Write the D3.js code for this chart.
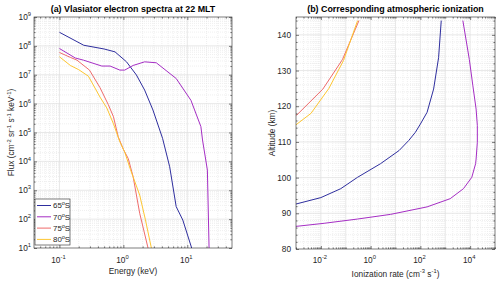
<!DOCTYPE html>
<html><head><meta charset="utf-8">
<script src="https://cdn.jsdelivr.net/npm/d3@7"></script>
<style>
html,body{margin:0;padding:0;background:#fff;}
svg{display:block;font-family:"Liberation Sans",Arial,Helvetica,sans-serif;}
</style></head>
<body>
<svg id="c" width="500" height="283"></svg>
<script>
// ---------- DATA ----------
const latitudes = ["65", "70", "75", "80"];
const seriesColors = ["#2e2e9e", "#a52ec4", "#ef6b6b", "#fdc632"];

// Panel (a): electron spectra, energy (keV) and flux
const energy65 = [0.1, 0.24, 0.5, 0.74, 1.12, 1.6, 2.15, 2.9, 4.1, 5.3, 6.7, 8.5, 11.7, 13];
const flux65   = [2.95e8, 1.05e8, 7.8e7, 6.2e7, 2.8e7, 9.8e6, 2.95e6, 6.0e5, 6.3e4, 6.5e3, 270, 93, 10, 4];
const energy70 = [0.1, 0.177, 0.238, 0.46, 0.62, 0.88, 1.05, 1.42, 2.15, 3.27, 6.7, 11.4, 16.3, 17.3, 20.6, 21.9, 22.2];
const flux70   = [8.1e7, 3.8e7, 3.2e7, 2.0e7, 2.0e7, 1.45e7, 1.45e7, 2.1e7, 2.8e7, 2.6e7, 7.4e6, 1.3e6, 1.6e5, 5.5e4, 5.0e3, 10, 4];
const energy75 = [0.1, 0.148, 0.188, 0.295, 0.43, 0.58, 0.70, 0.83, 1.0, 1.19, 1.42, 1.8, 2.43, 2.6];
const flux75   = [5.9e7, 4.0e7, 3.2e7, 1.45e7, 3.6e6, 9.3e5, 3.5e5, 7.1e4, 2.6e4, 1.26e4, 2.95e3, 160, 10, 4];
const energy80 = [0.1, 0.148, 0.2, 0.284, 0.43, 0.55, 0.70, 0.88, 1.05, 1.29, 1.8, 2.2, 2.74, 2.9];
const flux80   = [4.2e7, 2.1e7, 1.5e7, 8.9e6, 1.7e6, 7.1e5, 2.0e5, 4.8e4, 2.1e4, 5.2e3, 680, 100, 10, 5];

// Panel (b): ionization rate (cm^-3 s^-1) vs altitude (km)
const alt65  = [92.0, 92.6, 94.4, 96.9, 100.1, 103.9, 107.6, 110.4, 112.7, 115, 118.3, 124.8, 133.6, 144];
const rate65 = [4e-4, 1e-3, 1e-2, 6.3e-2, 0.3, 2.5, 14, 34, 63, 100, 186, 340, 540, 690];
const alt70  = [86.2, 86.4, 87.2, 88.4, 89.7, 91.8, 94.1, 96.9, 100.1, 103.9, 105.2, 109.9, 114.6, 119.2, 125.7, 133.1, 144];
const rate70 = [5e-4, 1.2e-3, 1.35e-2, 0.3, 6.3, 186, 1580, 5400, 1.17e4, 1.66e4, 1.74e4, 1.95e4, 1.95e4, 1.74e4, 1.29e4, 9300, 5100];
const alt75  = [117.2, 117.6, 124.8, 133.1, 144];
const rate75 = [6e-4, 1.1e-3, 1.2e-2, 7.4e-2, 0.34];
const alt80  = [114.5, 114.8, 118, 125, 132.8, 144];
const rate80 = [6e-4, 1e-3, 4e-3, 2.1e-2, 8.1e-2, 0.3];

// tick values
const fluxTicks = [1, 2, 3, 4, 5, 6, 7, 8, 9];        // exponents 10^n
const energyTicks = [-1, 0, 1];
const altTicks = [80, 90, 100, 110, 120, 130, 140];
const rateTicks = [-2, 0, 2, 4];

const titleA = "(a) Vlasiator electron spectra at 22 MLT";
const titleB = "(b) Corresponding atmospheric ionization";

// ---------- DRAW ----------
const svg = d3.select("#c");
const axisCol = "#262626";
const gridCol = "#dedede";
const minorCol = "#e4e4e4";
const tickFont = 8.3;

const pa = {x0: 34, x1: 232, y0: 17, y1: 248};
const pb = {x0: 296, x1: 495, y0: 17, y1: 249};

const xA = d3.scaleLog().domain([0.04, 50]).range([pa.x0, pa.x1]);
const yA = d3.scaleLog().domain([10, 1e9]).range([pa.y1, pa.y0]);
const xB = d3.scaleLog().domain([1e-3, 1e5]).range([pb.x0, pb.x1]);
const yB = d3.scaleLinear().domain([80, 145]).range([pb.y1, pb.y0]);

function logMinor(lo, hi) {
  const out = [];
  for (let e = Math.floor(Math.log10(lo)); e <= Math.ceil(Math.log10(hi)); e++) {
    for (let m = 2; m <= 9; m++) {
      const v = m * Math.pow(10, e);
      if (v > lo && v < hi) out.push(v);
    }
  }
  return out;
}
function logMajor(lo, hi) {
  const out = [];
  for (let e = Math.ceil(Math.log10(lo)); e <= Math.floor(Math.log10(hi)); e++) out.push(Math.pow(10, e));
  return out;
}

function drawGrid(g, p, xs, ys, xMaj, xMin, yMaj, yMin) {
  xMin.forEach(v => g.append("line").attr("x1", xs(v)).attr("x2", xs(v)).attr("y1", p.y0).attr("y2", p.y1)
    .attr("stroke", minorCol).attr("stroke-width", 0.6).attr("stroke-dasharray", "1,1"));
  yMin.forEach(v => g.append("line").attr("y1", ys(v)).attr("y2", ys(v)).attr("x1", p.x0).attr("x2", p.x1)
    .attr("stroke", minorCol).attr("stroke-width", 0.6).attr("stroke-dasharray", "1,1"));
  xMaj.forEach(v => g.append("line").attr("x1", xs(v)).attr("x2", xs(v)).attr("y1", p.y0).attr("y2", p.y1)
    .attr("stroke", gridCol).attr("stroke-width", 0.7));
  yMaj.forEach(v => g.append("line").attr("y1", ys(v)).attr("y2", ys(v)).attr("x1", p.x0).attr("x2", p.x1)
    .attr("stroke", gridCol).attr("stroke-width", 0.7));
}

function drawAxes(g, p, xs, ys, xMaj, xMin, yMaj, yMin) {
  const mk = (axisFn, scale, vals, size, tr) => {
    const a = g.append("g").attr("transform", tr).call(axisFn(scale).tickValues(vals).tickSize(size).tickFormat(""));
    a.select(".domain").remove();
    a.selectAll("line").attr("stroke", axisCol).attr("stroke-width", 0.6);
  };
  mk(d3.axisBottom, xs, xMaj, -3, `translate(0,${p.y1})`);
  mk(d3.axisBottom, xs, xMin, -1.6, `translate(0,${p.y1})`);
  mk(d3.axisTop, xs, xMaj, -3, `translate(0,${p.y0})`);
  mk(d3.axisTop, xs, xMin, -1.6, `translate(0,${p.y0})`);
  mk(d3.axisLeft, ys, yMaj, -3, `translate(${p.x0},0)`);
  mk(d3.axisLeft, ys, yMin, -1.6, `translate(${p.x0},0)`);
  mk(d3.axisRight, ys, yMaj, -3, `translate(${p.x1},0)`);
  mk(d3.axisRight, ys, yMin, -1.6, `translate(${p.x1},0)`);
  g.append("rect").attr("x", p.x0).attr("y", p.y0).attr("width", p.x1 - p.x0).attr("height", p.y1 - p.y0)
    .attr("fill", "none").attr("stroke", axisCol).attr("stroke-width", 0.6);
}

function powLabel(g, x, y, exp, anchor) {
  const t = g.append("text").attr("x", x).attr("y", y).attr("text-anchor", anchor)
    .attr("font-size", tickFont).attr("fill", axisCol);
  t.append("tspan").text("10");
  t.append("tspan").attr("dy", -3.8).attr("font-size", tickFont * 0.7).text(String(exp));
  return t;
}

function supText(g, parts, size) {
  parts.forEach(([s, sup], i) => {
    const ts = g.append("tspan").text(s);
    if (sup) ts.attr("font-size", size * 0.7).attr("dy", -size * 0.42);
    else if (i > 0 && parts[i - 1][1]) ts.attr("dy", size * 0.42);
  });
}

// ---- Panel A ----
const gA = svg.append("g");
svg.append("clipPath").attr("id", "clipA").append("rect")
  .attr("x", pa.x0).attr("y", pa.y0).attr("width", pa.x1 - pa.x0).attr("height", pa.y1 - pa.y0);
const xAMaj = logMajor(0.04, 50), xAMin = logMinor(0.04, 50);
const yAMaj = logMajor(10, 1e9).filter(v => v > 10 && v < 1e9), yAMin = logMinor(10, 1e9);
drawGrid(gA, pa, xA, yA, xAMaj, xAMin, yAMaj, yAMin);

const specE = [energy65, energy70, energy75, energy80];
const specF = [flux65, flux70, flux75, flux80];
const lineA = d3.line().x(d => xA(d[0])).y(d => yA(d[1]));
specE.forEach((E, i) => {
  gA.append("path").datum(E.map((e, j) => [e, specF[i][j]]))
    .attr("d", lineA).attr("fill", "none").attr("stroke", seriesColors[i]).attr("stroke-width", 1)
    .attr("clip-path", "url(#clipA)");
});
drawAxes(gA, pa, xA, yA, xAMaj, xAMin, logMajor(10, 1e9), yAMin);

fluxTicks.forEach(e => powLabel(gA, 31, yA(Math.pow(10, e)) + 3, e, "end"));
energyTicks.forEach(e => powLabel(gA, xA(Math.pow(10, e)) - 1, 262.5, e, "middle"));

gA.append("text").attr("x", (pa.x0 + pa.x1) / 2).attr("y", 12).attr("text-anchor", "middle")
  .attr("font-size", 8.9).attr("font-weight", "bold").attr("fill", "#000").text(titleA);
gA.append("text").attr("x", (pa.x0 + pa.x1) / 2).attr("y", 274).attr("text-anchor", "middle")
  .attr("font-size", 8.3).attr("fill", axisCol).text("Energy (keV)");
const yl = gA.append("text").attr("transform", `translate(14,${(pa.y0 + pa.y1) / 2}) rotate(-90)`)
  .attr("text-anchor", "middle").attr("font-size", 8.3).attr("fill", axisCol);
supText(yl, [["Flux (cm", false], ["-2", true], [" sr", false], ["-1", true], [" s", false], ["-1", true], [" keV", false], ["-1", true], [")", false]], 8.3);

// legend
const lg = gA.append("g");
const lgX = 35, lgY = 199, lgW = 35, lgH = 46;
lg.append("rect").attr("x", lgX).attr("y", lgY).attr("width", lgW).attr("height", lgH)
  .attr("fill", "#fff").attr("stroke", axisCol).attr("stroke-width", 0.6);
latitudes.forEach((lat, i) => {
  const yy = lgY + 6.5 + i * 11.3;
  lg.append("line").attr("x1", lgX + 2).attr("x2", lgX + 16).attr("y1", yy).attr("y2", yy)
    .attr("stroke", seriesColors[i]).attr("stroke-width", 1);
  const t = lg.append("text").attr("x", lgX + 18).attr("y", yy + 2.9).attr("font-size", 7.9).attr("fill", axisCol);
  t.append("tspan").text(lat);
  t.append("tspan").attr("dy", -3).attr("font-size", 5.5).text("o");
  t.append("tspan").attr("dy", 3).text("S");
});

// ---- Panel B ----
const gB = svg.append("g");
svg.append("clipPath").attr("id", "clipB").append("rect")
  .attr("x", pb.x0).attr("y", pb.y0).attr("width", pb.x1 - pb.x0).attr("height", pb.y1 - pb.y0);
const xBMaj = logMajor(1e-3, 1e5).filter(v => v > 1e-3 && v < 1e5), xBMin = logMinor(1e-3, 1e5);
const yBMaj = d3.range(90, 145, 10), yBMin = d3.range(82, 145, 2).filter(v => v % 10 !== 0);
drawGrid(gB, pb, xB, yB, xBMaj, xBMin, yBMaj, yBMin);

const ionA = [alt65, alt70, alt75, alt80];
const ionR = [rate65, rate70, rate75, rate80];
const lineB = d3.line().x(d => xB(d[0])).y(d => yB(d[1]));
ionA.forEach((A, i) => {
  gB.append("path").datum(A.map((a, j) => [ionR[i][j], a]))
    .attr("d", lineB).attr("fill", "none").attr("stroke", seriesColors[i]).attr("stroke-width", 1)
    .attr("clip-path", "url(#clipB)");
});
drawAxes(gB, pb, xB, yB, rateTicks.map(e => Math.pow(10, e)), xBMin.concat(logMajor(1e-3, 1e5).filter(v => !rateTicks.includes(Math.round(Math.log10(v))))), altTicks, yBMin);

altTicks.forEach(v => gB.append("text").attr("x", 291).attr("y", yB(v) + 3).attr("text-anchor", "end")
  .attr("font-size", tickFont).attr("fill", axisCol).text(v));
rateTicks.forEach(e => powLabel(gB, xB(Math.pow(10, e)) - 1, 262.5, e, "middle"));

gB.append("text").attr("x", (pb.x0 + pb.x1) / 2).attr("y", 12).attr("text-anchor", "middle")
  .attr("font-size", 8.9).attr("font-weight", "bold").attr("fill", "#000").text(titleB);
const xl = gB.append("text").attr("x", (pb.x0 + pb.x1) / 2).attr("y", 276.5).attr("text-anchor", "middle")
  .attr("font-size", 8.3).attr("fill", axisCol);
supText(xl, [["Ionization rate (cm", false], ["-3", true], [" s", false], ["-1", true], [")", false]], 8.3);
gB.append("text").attr("transform", `translate(275,${(pb.y0 + pb.y1) / 2}) rotate(-90)`)
  .attr("text-anchor", "middle").attr("font-size", 8.3).attr("fill", axisCol).text("Altitude (km)");
</script>
</body></html>
